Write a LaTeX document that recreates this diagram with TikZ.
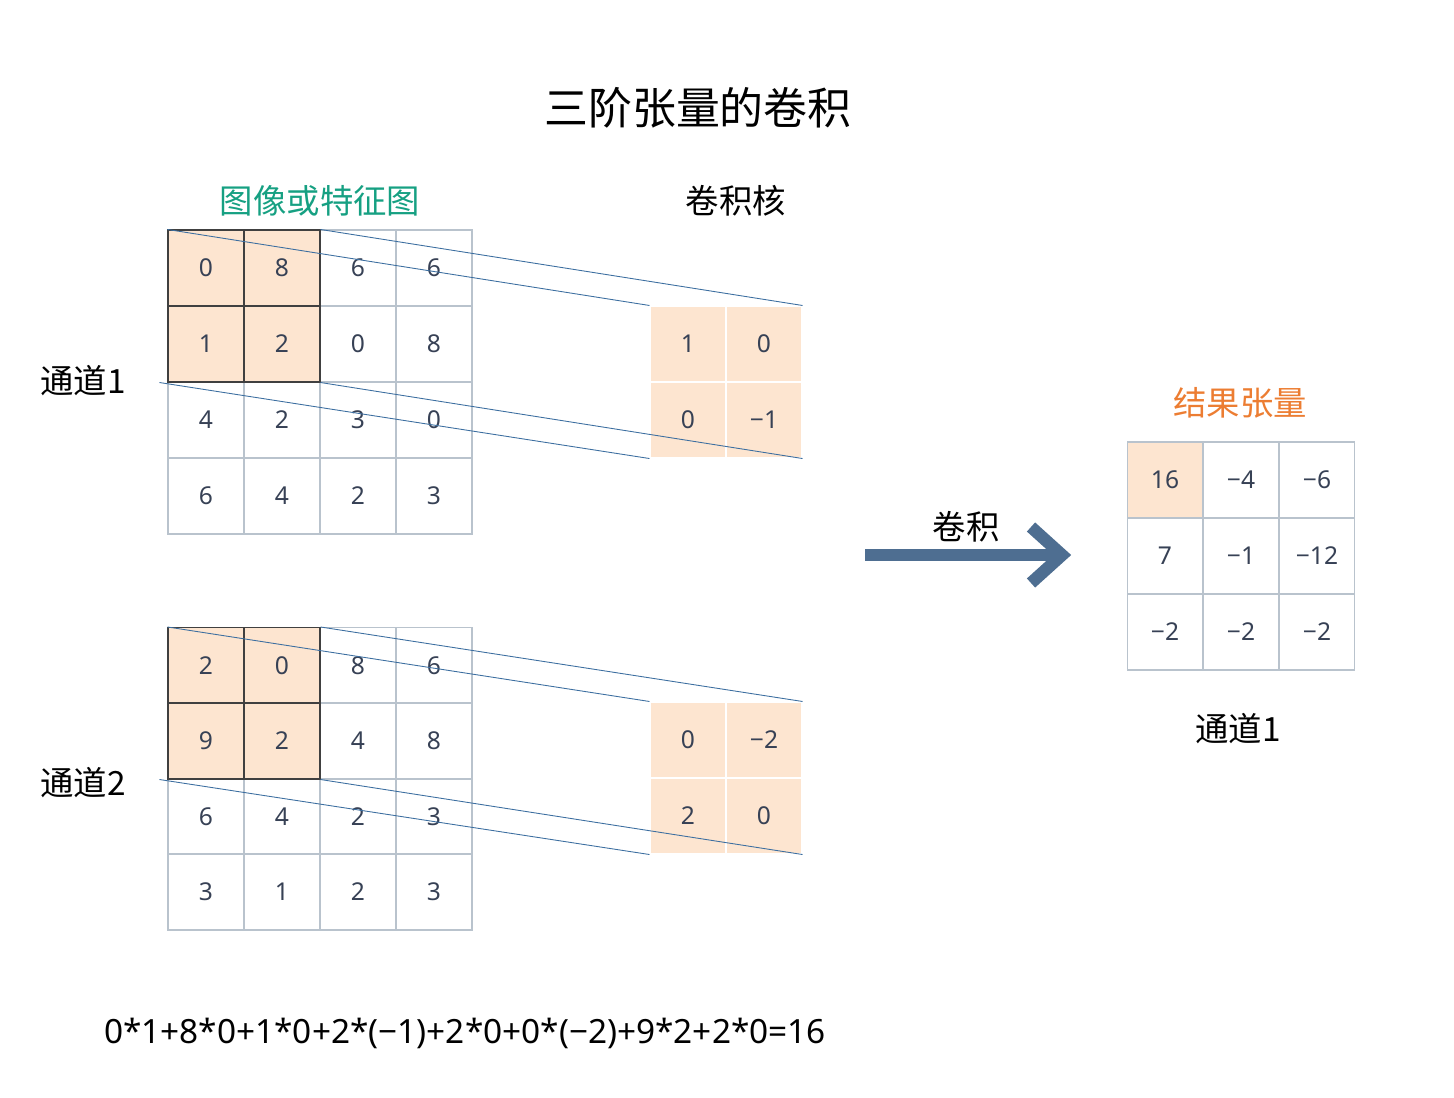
\documentclass[tikz,border=0pt]{standalone}
\usepackage{fontspec}
\setmainfont{Noto Sans}
\newfontfamily\cjk{Noto Sans CJK SC}
\definecolor{numc}{RGB}{55,65,85}
\definecolor{gridc}{RGB}{185,195,205}
\definecolor{orfill}{RGB}{253,229,208}
\definecolor{greenc}{RGB}{22,160,130}
\definecolor{orangec}{RGB}{236,125,50}
\definecolor{linec}{RGB}{60,110,160}
\definecolor{arrc}{RGB}{78,110,145}
\begin{document}
\begin{tikzpicture}[x=0.02cm,y=-0.02cm,
  cell/.style={draw=gridc,line width=0.6pt,minimum width=1.52cm,minimum height=1.52cm,inner sep=0,font=\fontsize{14}{14}\selectfont,text=numc},
  rcell/.style={cell,minimum width=1.5cm},
  hot/.style={fill=orfill},
  lbl/.style={font=\cjk\fontsize{19}{19}\selectfont},
  proj/.style={draw=linec,line width=0.5pt}]
\useasboundingbox (0,0) rectangle (1454,1098);
\node[font=\cjk\fontsize{25}{25}\selectfont] (title) at (698,108) {三阶张量的卷积};
\node[lbl,text=greenc] (lt) at (320,201) {图像或特征图};
\node[lbl] (kt) at (736,201) {卷积核};
\node[lbl,text=orangec] (rt) at (1240,403) {结果张量};
\node[lbl] (c1) at (83,381) {通道1};
\node[lbl] (c2) at (83,783) {通道2};
\node[lbl] (c3) at (1238,729) {通道1};
% grid 1
\foreach \r/\row in {1/{0,8,6,6},2/{1,2,0,8},3/{4,2,3,0},4/{6,4,2,3}}{
  \foreach \v [count=\c] in \row {
    \node[cell] (a-\r-\c) at ({206+76*(\c-1)},{268+76*(\r-1)}) {\v};}}
% grid 2
\foreach \r/\row in {1/{2,0,8,6},2/{9,2,4,8},3/{6,4,2,3},4/{3,1,2,3}}{
  \foreach \v [count=\c] in \row {
    \node[cell] (b-\r-\c) at ({206+76*(\c-1)},{665.5+75.5*(\r-1)}) {\v};}}
\foreach \g in {a,b}{
  \foreach \r/\c in {1/1,1/2,2/1,2/2}{
    \node[cell,hot,draw=black!75] at (\g-\r-\c) {};}}
\foreach \r/\row in {1/{0,8},2/{1,2}}{\foreach \v [count=\c] in \row {\node[cell,draw=none,hot,fill=none] at (a-\r-\c) {\v};}}
\foreach \r/\row in {1/{2,0},2/{9,2}}{\foreach \v [count=\c] in \row {\node[cell,draw=none,hot,fill=none] at (b-\r-\c) {\v};}}
% kernels
\node[cell,hot,draw=white] (k-1-1) at (688,344) {1};
\node[cell,hot,draw=white] (k-1-2) at (764,344) {0};
\node[cell,hot,draw=white] (k-2-1) at (688,420) {0};
\node[cell,hot,draw=white] (k-2-2) at (764,420) {−1};
\node[cell,hot,draw=white] (m-1-1) at (688,740) {0};
\node[cell,hot,draw=white] (m-1-2) at (764,740) {−2};
\node[cell,hot,draw=white] (m-2-1) at (688,816) {2};
\node[cell,hot,draw=white] (m-2-2) at (764,816) {0};
% projection lines
\coordinate (a-bl) at ([xshift=-0.16cm]a-2-1.south west);
\coordinate (b-bl) at ([xshift=-0.16cm]b-2-1.south west);
\draw[proj] (a-1-1.north west) -- (k-1-1.north west);
\draw[proj] (a-1-2.north east) -- (k-1-2.north east);
\draw[proj] (a-bl) -- (k-2-1.south west);
\draw[proj] (a-2-2.south east) -- (k-2-2.south east);
\draw[proj] (b-1-1.north west) -- (m-1-1.north west);
\draw[proj] (b-1-2.north east) -- (m-1-2.north east);
\draw[proj] (b-bl) -- (m-2-1.south west);
\draw[proj] (b-2-2.south east) -- (m-2-2.south east);
% result
\foreach \r/\row in {1/{16,−4,−6},2/{7,−1,−12},3/{−2,−2,−2}}{
  \foreach \v [count=\c] in \row {
    \node[rcell] (r-\r-\c) at ({1165+76*(\c-1)},{480+76*(\r-1)}) {\v};}}
\node[rcell,hot] at (r-1-1) {16};
% arrow
\coordinate (as) at (865,555);
\node[inner sep=0] (ae) at (1062,555) {};
\draw[arrc,line width=7pt] (as) -- (ae.center);
\draw[arrc,line width=7pt,line cap=butt] (1031,527) -- (ae.center) -- (1031,583);
\node[lbl] (al) at (966,527) {卷积};
\node[font=\fontsize{19}{19}\selectfont] (f) at (465,1033) {0*1+8*0+1*0+2*(−1)+2*0+0*(−2)+9*2+2*0=16};
\end{tikzpicture}
\end{document}
